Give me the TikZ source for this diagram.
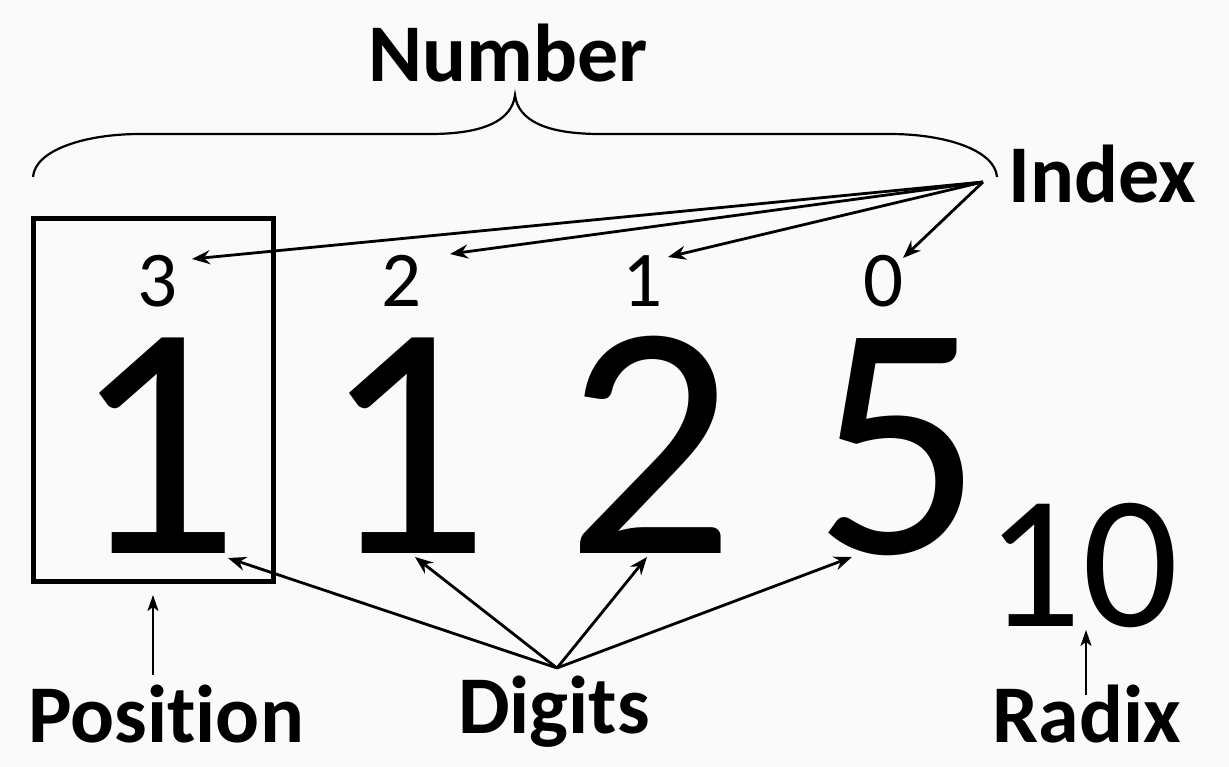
\documentclass[tikz,border=0pt]{standalone}
\usepackage{fontspec}
\setmainfont[Ligatures={NoCommon}]{Carlito}
\usetikzlibrary{arrows.meta}
\definecolor{bgc}{RGB}{250,250,250}
\begin{document}
\begin{tikzpicture}[x=1pt,y=-1pt,
  lbl/.style={anchor=base,inner sep=0pt,font=\fontsize{82}{96}\selectfont\bfseries},
  big/.style={anchor=base,inner sep=0pt,text height=220pt,text depth=0pt,font=\fontsize{335}{380}\selectfont},
  idx/.style={anchor=base,inner sep=0pt,text height=50pt,text depth=0pt,font=\fontsize{79}{90}\selectfont},
  arr/.style={line width=2.8pt,-{Stealth[length=18pt,width=14pt,inset=6pt]}},
  thin/.style={line width=2.2pt,-{Stealth[length=16pt,width=11pt,inset=4pt]}}]
\fill[bgc] (0,0) rectangle (1229,767);
\useasboundingbox (0,0) rectangle (1229,767);
% labels
\node[lbl] (number) at (508,82) {Number};
\node[lbl] (index) at (1102,203) {Index};
\node[lbl] (position) at (166,742) {Position};
\node[lbl] (digits) at (554,733) {Digits};
\node[lbl] (radix) at (1087,742) {Radix};
% big digits
\node[big] (d3) at (155,553) {1};
\node[big] (d2) at (405,553) {1};
\node[big] (d1) at (650,553) {2};
\node[big] (d0) at (898,553) {5};
% index numbers
\node[idx] (n3) at (158,307) {3};
\node[idx] (n2) at (402,307) {2};
\node[idx] (n1) at (643,307) {1};
\node[idx] (n0) at (884,307) {0};
% radix
\node[anchor=base,inner sep=0pt,text height=122pt,text depth=0pt,font=\fontsize{190}{220}\selectfont] (ten) at (1082,626) {10};
% position box
\node[draw,line width=5pt,minimum width=240pt,minimum height=362pt,inner sep=0pt] (box) at (153,400) {};
% brace
\draw[line width=2.2pt] (33,177) .. controls (35,150) and (85,134) .. (140,134)
  -- (430,134) .. controls (485,134) and (512,120) .. (515,95)
  .. controls (518,120) and (545,134) .. (600,134)
  -- (890,134) .. controls (945,134) and (995,150) .. (997,177);
% index arrows
\coordinate (io) at (983,182);
\coordinate (t3) at (192,259);
\coordinate (t2) at (450,254);
\coordinate (t1) at (668,257);
\coordinate (t0) at (903,258);
\foreach \t in {t3,t2,t1,t0} \draw[arr] (io) -- (\t);
% digits arrows
\coordinate (dg) at (557,668);
\coordinate (g3) at (228,558);
\coordinate (g2) at (415,557);
\coordinate (g1) at (647,557);
\coordinate (g0) at (852,557);
\foreach \t in {g3,g2,g1,g0} \draw[arr] (dg) -- (\t);
% position & radix arrows
\coordinate (pt) at (153,595);
\coordinate (ps) at (153,675);
\draw[thin] (ps) -- (pt);
\coordinate (rt) at (1086,630);
\coordinate (rs) at (1086,695);
\draw[thin] (rs) -- (rt);
\end{tikzpicture}
\end{document}
